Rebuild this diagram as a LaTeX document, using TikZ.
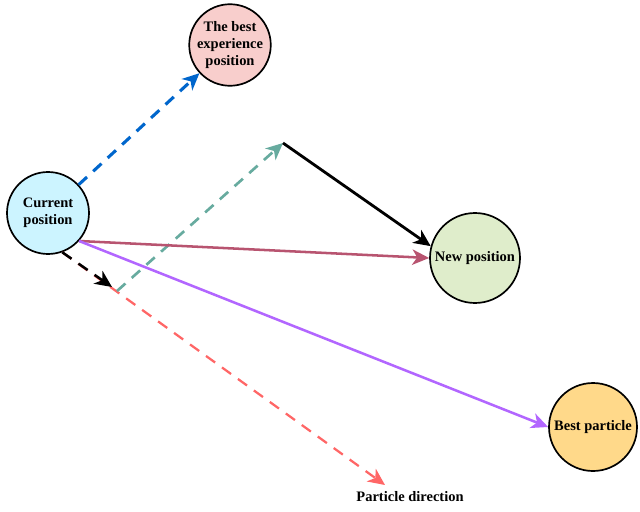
\documentclass[tikz,border=0pt]{standalone}
\usepackage{fontspec}
\setmainfont{Liberation Serif}
\usepackage{tikz}
\usetikzlibrary{arrows.meta,calc,positioning}

\definecolor{curfill}{HTML}{CCF4FF}
\definecolor{expfill}{HTML}{F8CECC}
\definecolor{newfill}{HTML}{DFEDCB}
\definecolor{bestfill}{HTML}{FFD98A}
\definecolor{blueline}{HTML}{0066CC}
\definecolor{greenline}{HTML}{67AB9F}
\definecolor{roseline}{HTML}{B85470}
\definecolor{violetline}{HTML}{B266FF}
\definecolor{redline}{HTML}{FF6666}

\begin{document}
\begin{tikzpicture}[
                    POS/.style={circle, draw=black, line width=1.2pt, inner sep=0pt, align=center, font=\fontsize{10.3}{12.4}\selectfont\bfseries},
                    CUR/.style={POS, fill=curfill, minimum size=2.05cm},
                    EXP/.style={POS, fill=expfill, minimum size=2.0cm},
                    NEW/.style={POS, fill=newfill, minimum size=2.25cm},
                    BEST/.style={POS, fill=bestfill, minimum size=2.2cm},
                    tip/.style={-{Stealth[length=12pt, width=11pt, inset=3.5pt]}},
                ]
                \useasboundingbox (0,0) rectangle (16,12.775);

                \node[CUR]    (Current)    at (1.2,7.45)     {Current\\position};
                \node[EXP]    (Best_Exp)   at (5.75,11.65)   {The best\\experience\\position};
                \node[NEW]    (New_Pos)    at (11.875,6.325) {New position};
                \node[BEST]   (Best_Part)  at (14.825,2.1)   {Best particle};
                \node[font=\fontsize{10.3}{12.4}\selectfont\bfseries] (Direction) at (10.25,0.35) {Particle direction};

                \coordinate (Inertia_End) at (2.8,5.6);
                \coordinate (Cog_Start)   at (2.925,5.5);
                \coordinate (Cog_End)     at (7.075,9.2);
                \coordinate (Dir_End)     at (9.625,0.65);

                % particle direction and inertia
                \draw[tip, redline, line width=1.6pt, dash pattern=on 8pt off 6pt] (Current.-70) -- (Dir_End);
                \draw[tip, black, line width=1.8pt, dash pattern=on 8pt off 6pt] (Current.-70) -- (Inertia_End);

                % cognitive part
                \draw[tip, blueline, line width=2.2pt, dash pattern=on 8pt off 6pt] (Current) -- (Best_Exp);
                \draw[tip, greenline, line width=1.9pt, dash pattern=on 8pt off 6pt] (Cog_Start) -- (Cog_End);
                \draw[tip, black, line width=2pt] (Cog_End) -- (New_Pos.165);

                % social part and update
                \draw[tip, roseline, line width=1.8pt] (Current.-42) -- (New_Pos.west);
                \draw[tip, violetline, line width=1.8pt] (Current.-42) -- (Best_Part.west);

            \end{tikzpicture}
\end{document}
